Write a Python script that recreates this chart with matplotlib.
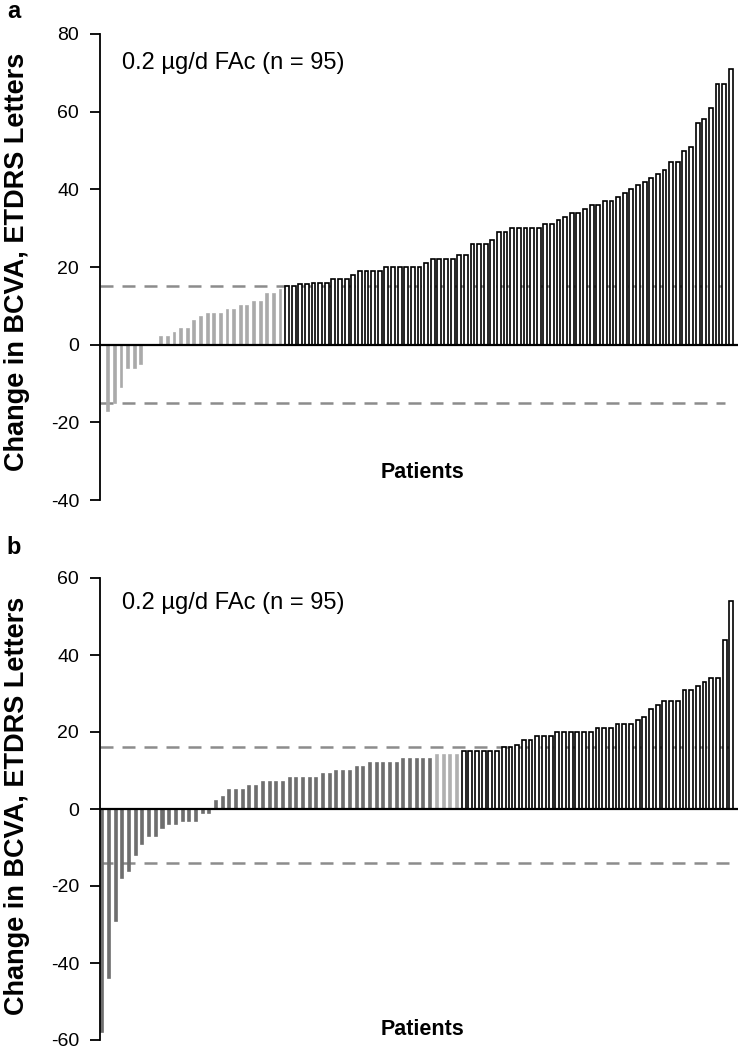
import numpy as np
import matplotlib
matplotlib.use("Agg")
import matplotlib.pyplot as plt

plt.rcParams['font.family'] = ['Liberation Sans', 'DejaVu Sans']
plt.rcParams['axes.unicode_minus'] = False

# panel a: change in BCVA per patient, sorted
vals_a = [-17, -15, -11, -6, -6, -5, 0, 0, 2, 2, 3, 4, 4, 6, 7, 8, 8, 8, 9, 9,
          10, 10, 11, 11, 13, 13, 14, 15, 15, 15.5, 15.5, 16, 16, 16, 17, 17, 17, 18, 19, 19,
          19, 19, 20, 20, 20, 20, 20, 20, 21, 22, 22, 22, 22, 23, 23, 26, 26, 26, 27, 29,
          29, 30, 30, 30, 30, 30, 31, 31, 32, 33, 34, 34, 35, 36, 36, 37, 37, 38, 39, 40,
          41, 42, 43, 44, 45, 47, 47, 50, 51, 57, 58, 61, 67, 67, 71]

# panel b
vals_b = [-58, -44, -29, -18, -16, -12, -9, -7, -7, -5, -4, -4, -3, -3, -3, -1, -1, 2, 3, 5,
          5, 5, 6, 6, 7, 7, 7, 7, 8, 8, 8, 8, 8, 9, 9, 10, 10, 10, 11, 11,
          12, 12, 12, 12, 12, 13, 13, 13, 13, 13, 14, 14, 14, 14, 15, 15, 15, 15, 15, 15,
          16, 16, 16.5, 18, 18, 19, 19, 19, 20, 20, 20, 20, 20, 20, 21, 21, 21, 22, 22, 22,
          23, 24, 26, 27, 28, 28, 28, 31, 31, 32, 33, 34, 34, 44, 54]

thresh_a = [15, -15]
thresh_b = [16, -14]
yticks_a = [-40, -20, 0, 20, 40, 60, 80]
yticks_b = [-60, -40, -20, 0, 20, 40, 60]
label_txt = "0.2 \u00b5g/d FAc (n = 95)"
ylab = "Change in BCVA, ETDRS Letters"

fig = plt.figure(figsize=(7.39, 10.56), dpi=100)
ax_a = fig.add_axes([100/739, 1-500/1056, 638/739, 466/1056])
ax_b = fig.add_axes([100/739, 1-1040/1056, 638/739, 462/1056])


def draw(ax, vals, thresh, yticks, xlim, style_fn, dash_end, txt_y, pat_y):
    x = np.arange(len(vals))
    for xi, v in zip(x, vals):
        fc, ec, w = style_fn(v)
        ax.bar(xi, v, width=w, color=fc, edgecolor=ec, linewidth=1.2, zorder=2)
    ax.axhline(0, color='black', lw=1.6, zorder=3)
    for t in thresh:
        ax.axhline(t, xmax=dash_end, color='#8c8c8c', lw=1.8,
                   linestyle=(0, (5.2, 3.6)), zorder=1)
    ax.set_xlim(*xlim)
    ax.set_ylim(yticks[0], yticks[-1])
    ax.set_yticks(yticks)
    ax.set_xticks([])
    for s in ['top', 'right', 'bottom']:
        ax.spines[s].set_visible(False)
    ax.spines['left'].set_linewidth(1.3)
    ax.tick_params(axis='y', length=7, width=1.3, pad=8, labelsize=14)
    ax.text(0.035, txt_y, label_txt, transform=ax.transAxes, fontsize=17, va='center', ha='left')
    ax.text(0.505, pat_y, "Patients", transform=ax.transAxes, fontsize=15.5,
            fontweight='bold', ha='center', va='center')


def style_a(v):
    if v >= 15:
        return 'white', 'black', 0.58
    return '#aaaaaa', '#aaaaaa', 0.28


def style_b(v):
    if v >= 15:
        return 'white', 'black', 0.58
    if v >= 14:
        return '#b0b0b0', '#b0b0b0', 0.3
    return '#6e6e6e', '#6e6e6e', 0.3


draw(ax_a, vals_a, thresh_a, yticks_a, (-1.25, 95.1), style_a, 0.98, 0.938, 0.06)
draw(ax_b, vals_b, thresh_b, yticks_b, (-0.34, 95.0), style_b, 1.0, 0.946, 0.022)

fig.text(17/739, 1-262/1056, ylab, rotation=90, fontsize=19.5, fontweight='bold',
         ha='center', va='center')
fig.text(17/739, 1-806/1056, ylab, rotation=90, fontsize=19.5, fontweight='bold',
         ha='center', va='center')
fig.text(14/739, 1-12/1056, "a", fontsize=17, fontweight='bold', ha='center', va='center')
fig.text(14/739, 1-548/1056, "b", fontsize=17, fontweight='bold', ha='center', va='center')

fig.savefig("out.png", dpi=100)
